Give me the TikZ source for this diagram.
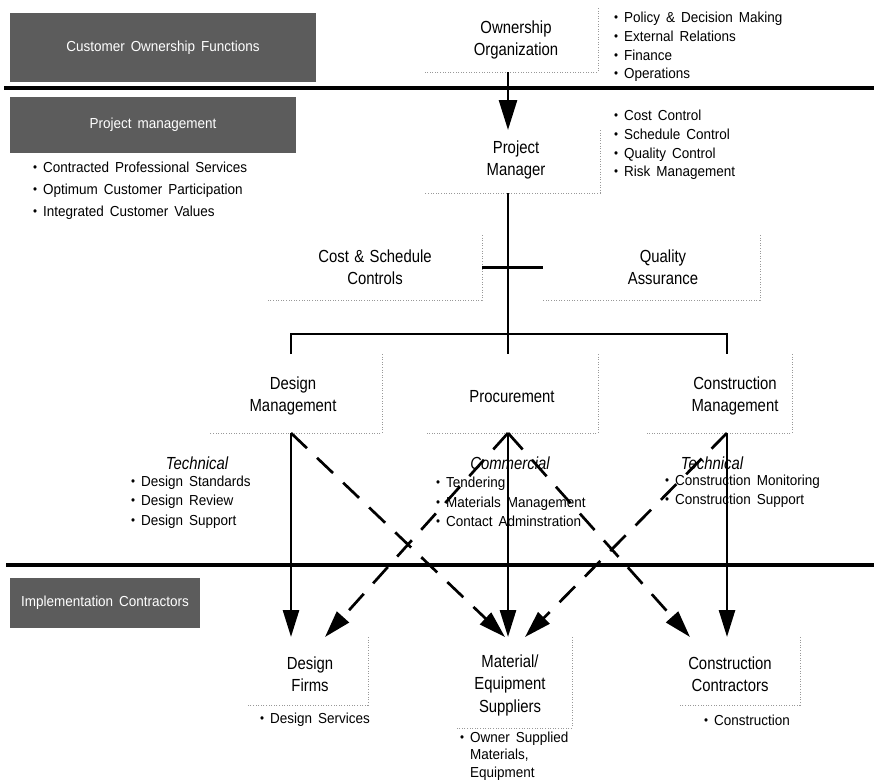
\documentclass[tikz,border=0pt]{standalone}
\usepackage{fontspec}
\setmainfont{Liberation Sans}[FakeStretch=0.93,WordSpace=1.6]
\newfontfamily\lblfont{Liberation Sans}[FakeStretch=0.85,WordSpace=1.3]
\usetikzlibrary{arrows.meta,calc}
\newcommand\bul{\raisebox{0.12ex}{\scalebox{0.85}{\textbullet}}\ }
\begin{document}
\begin{tikzpicture}[x=1pt,y=-1pt,
  box/.style n args={2}{minimum width=#1, minimum height=#2, inner sep=0pt, outer sep=0pt},
  frame/.style={draw=black!40, dash pattern=on 1pt off 1.6pt, line width=0.7pt},
  lbl/.style={align=center, inner sep=0pt, font=\lblfont\fontsize{17.5}{22.5}\selectfont},
  hd/.style={align=center, inner sep=0pt, font=\lblfont\itshape\fontsize{17.5}{22}\selectfont},
  bl/.style={align=left, inner sep=0pt, anchor=west, font=\fontsize{14.5}{18.7}\selectfont},
  gbox/.style={fill=black!64, text=white, inner sep=0pt, font=\fontsize{14.5}{16}\selectfont},
  sep/.style={line width=4.5pt},
  conn/.style={line width=2.7pt},
  bigarrow/.style={conn, -{Triangle[length=30pt,width=18pt]}},
  arr/.style={conn, -{Triangle[length=27pt,width=16pt]}},
  darr/.style={arr, dash pattern=on 22pt off 14pt}]
\useasboundingbox (0,0) rectangle (874,780);
% guide coordinates
\coordinate (spine) at (508,0);
\coordinate (dmx) at (291,0);
\coordinate (cmx) at (727,0);
\coordinate (br) at (508,334);
% separators
\coordinate (s1a) at (4,88); \coordinate (s1b) at (874,88);
\coordinate (s2a) at (6,565); \coordinate (s2b) at (874,565);
\draw[sep] (s1a) -- (s1b);
\draw[sep] (s2a) -- (s2b);
% gray band labels
\node[gbox, minimum width=306, minimum height=69] (cof) at (163,47.5) {Customer Ownership Functions};
\node[gbox, minimum width=286, minimum height=56] (pmg) at (153,125) {Project management};
\node[gbox, minimum width=190, minimum height=50] (icg) at (105,603) {Implementation Contractors};
% boxes
\node[box={173}{64}] (own) at (511.5,40) {};
\node[box={175}{63}] (pm) at (512.5,161.5) {};
\node[box={214}{65}] (csc) at (375,267.5) {};
\node[box={217}{65}] (qa) at (651.5,267.5) {};
\node[box={172}{79}] (dm) at (296,393.5) {};
\node[box={171}{79}] (pr) at (512.5,393.5) {};
\node[box={145}{79}] (cm) at (719.5,393.5) {};
\node[box={120}{68}] (df) at (308,671) {};
\node[box={117}{91}] (mes) at (513.5,682.5) {};
\node[box={120}{68}] (cc) at (740,671) {};
\foreach \n in {own,pm,csc,qa,dm,pr,cm,df,mes,cc}
  \draw[frame] (\n.north east) -- (\n.south east) -- (\n.south west);
% box labels
\node[lbl] (town) at (516,40) {Ownership\\Organization};
\node[lbl] (tpm) at (516,160) {Project\\Manager};
\node[lbl] (tcsc) at (375,267) {Cost \& Schedule\\Controls};
\node[lbl] (tqa) at (663,267) {Quality\\Assurance};
\node[lbl] (tdm) at (293,396) {Design\\Management};
\node[lbl] (tpr) at (512,397) {Procurement};
\node[lbl] (tcm) at (735,396) {Construction\\Management};
\node[lbl] (tdf) at (310,674) {Design\\Firms};
\node[lbl] (tmes) at (510,685) {Material/\\Equipment\\Suppliers};
\node[lbl] (tcc) at (730,674) {Construction\\Contractors};
% bullet lists
\node[bl] (bown) at (614,47) {\bul Policy \& Decision Making\\\bul External Relations\\\bul Finance\\\bul Operations};
\node[bl] (bpm) at (614,145) {\bul Cost Control\\\bul Schedule Control\\\bul Quality Control\\\bul Risk Management};
\node[bl, font=\fontsize{14.5}{22}\selectfont] (bpmg) at (33,191) {\bul Contracted Professional Services\\\bul Optimum Customer Participation\\\bul Integrated Customer Values};
\node[hd] (tech1) at (197,463) {Technical};
\node[bl, font=\fontsize{14.5}{19.5}\selectfont] (btech1) at (131,502) {\bul Design Standards\\\bul Design Review\\\bul Design Support};
\node[hd] (comm) at (510,463) {Commercial};
\node[bl, font=\fontsize{14.5}{19.5}\selectfont] (bcomm) at (436,502) {\bul Tendering\\\bul Materials Management\\\bul Contact Adminstration};
\node[hd] (tech2) at (712,463) {Technical};
\node[bl, font=\fontsize{14.5}{19.5}\selectfont] (btech2) at (665,491) {\bul Construction Monitoring\\\bul Construction Support};
\node[bl] (bdf) at (260,720) {\bul Design Services};
\node[bl, font=\fontsize{14.5}{17.5}\selectfont] (bmes) at (460,756) {\bul Owner Supplied\\\hphantom{\bul}Materials,\\\hphantom{\bul}Equipment};
\node[bl] (bcc) at (704,720) {\bul Construction};
% connectors
\draw[bigarrow] (own.south -| spine) -- (pm.north -| spine);
\draw[conn] (pm.south -| spine) -- (br);
\draw[conn] (csc.east) -- (qa.west);
\draw[conn] (dm.north -| dmx) |- (br) -| (cm.north -| cmx);
\draw[conn] (br) -- (pr.north -| spine);
\draw[arr] (dm.south -| dmx) -- (df.north -| dmx);
\draw[arr] (pr.south -| spine) -- (mes.north -| spine);
\draw[arr] (cm.south -| cmx) -- (cc.north -| cmx);
\draw[darr] (dm.south -| dmx) -- ($(mes.north -| spine)+(-3,0)$);
\draw[darr] (pr.south -| spine) -- ($(df.north -| dmx)+(34,0)$);
\draw[darr] (pr.south -| spine) -- ($(cc.north -| cmx)+(-37,0)$);
\draw[darr] (cm.south -| cmx) -- ($(mes.north -| spine)+(17,0)$);
\end{tikzpicture}
\end{document}
